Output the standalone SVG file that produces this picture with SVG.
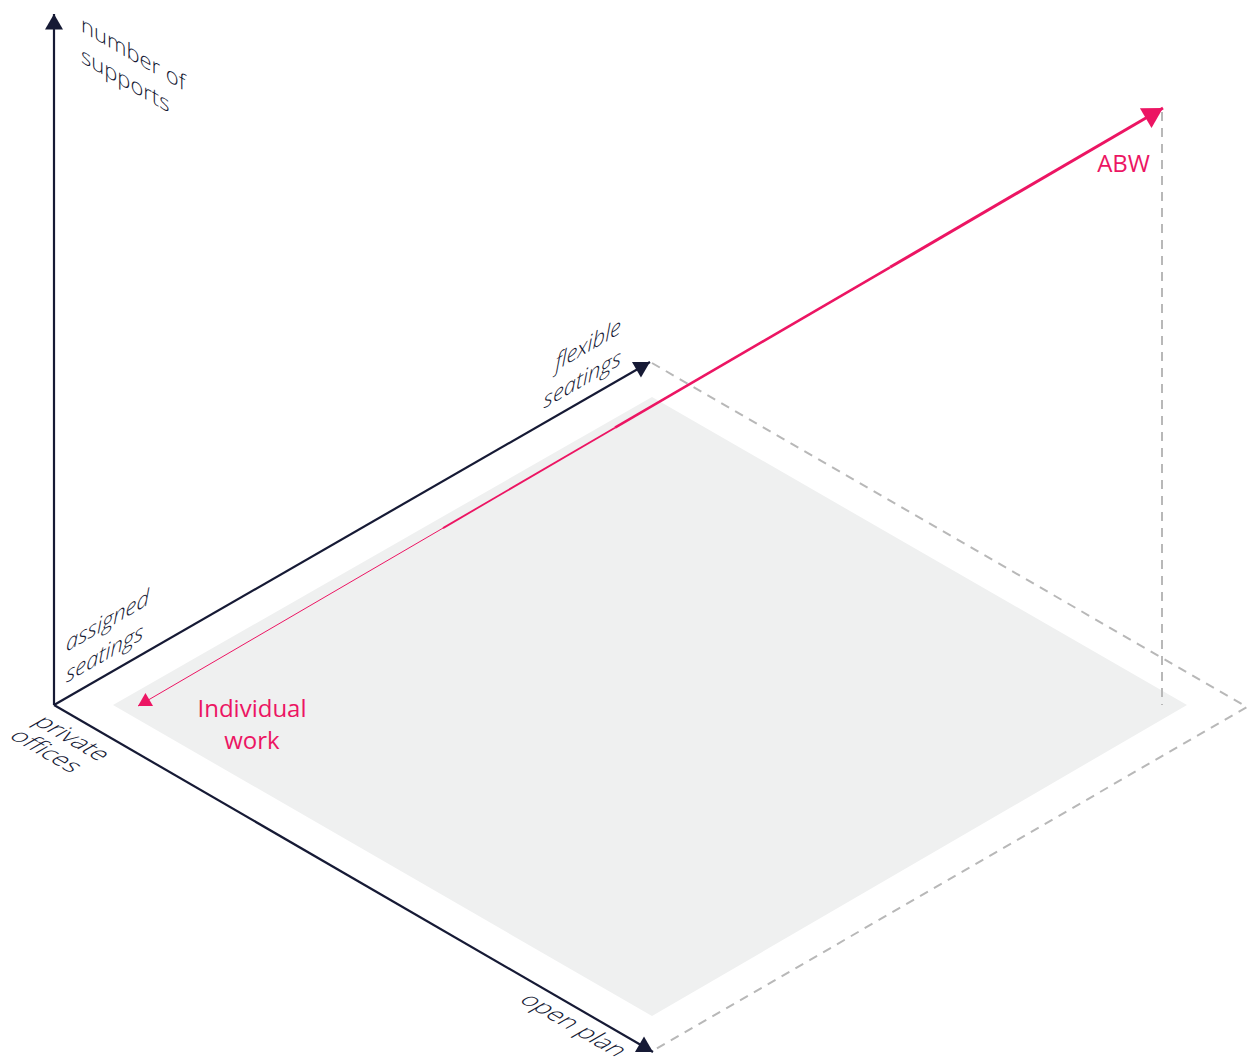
<svg xmlns="http://www.w3.org/2000/svg" width="1250" height="1059" viewBox="0 0 1250 1059">
  <style>
    .axis { stroke: #161a35; stroke-width: 2.2; fill: none; }
    .dash { stroke: #b8b8b8; stroke-width: 2; stroke-dasharray: 9 7; fill: none; }
    .pink { stroke: #ec1563; fill: none; }
    .lbl { font-family: "Open Sans", "Liberation Sans", sans-serif; font-weight: 300; font-size: 22px; fill: #161a35; }
    .it { font-style: italic; }
    .floor { font-size: 25px; }
    .plbl { font-family: "Open Sans", "Liberation Sans", sans-serif; font-size: 24px; fill: #ec1563; }
  </style>
  <defs>
    <marker id="arrDark" markerUnits="userSpaceOnUse" markerWidth="24" markerHeight="24" viewBox="-20 -12 24 24" refX="0" refY="0" orient="auto">
      <path d="M0,0 L-15.6,-9 L-15.6,9 Z" fill="#161a35"/>
    </marker>
    <marker id="arrPinkBig" markerUnits="userSpaceOnUse" markerWidth="30" markerHeight="30" viewBox="-26 -15 30 30" refX="0" refY="0" orient="auto">
      <path d="M0,0 L-20,-11.5 L-20,11.5 Z" fill="#ec1563"/>
    </marker>
    <marker id="arrPinkSmall" markerUnits="userSpaceOnUse" markerWidth="20" markerHeight="20" viewBox="-16 -10 20 20" refX="0" refY="0" orient="auto">
      <path d="M0,0 L-13,-7.5 L-13,7.5 Z" fill="#ec1563"/>
    </marker>
  </defs>

  <g id="floor">
    <polygon points="113,705 652,397 1187,705 652,1016" fill="#eff0f0"/>
  </g>

  <g id="connectors">
    <polyline class="dash" points="652,363 1247,707 656,1049"/>
    <line class="dash" x1="1162" y1="112" x2="1162" y2="705"/>
    <line class="axis" x1="54" y1="705" x2="54" y2="14" marker-end="url(#arrDark)"/>
    <line class="axis" x1="54" y1="705" x2="650" y2="362" marker-end="url(#arrDark)"/>
    <line class="axis" x1="54" y1="705" x2="653" y2="1052" marker-end="url(#arrDark)"/>
    <line class="pink" stroke-width="1" x1="443" y1="528.1" x2="138" y2="706" marker-end="url(#arrPinkSmall)"/>
    <line class="pink" stroke-width="1.8" x1="443" y1="528.1" x2="615" y2="427.7"/>
    <line class="pink" stroke-width="2.5" x1="615" y1="427.7" x2="890" y2="267.3"/>
    <line class="pink" stroke-width="3" x1="890" y1="267.3" x2="1163" y2="108" marker-end="url(#arrPinkBig)"/>
  </g>

  <g id="label-supports">
    <text class="lbl" transform="matrix(1,0.577,0,1,81,31)"><tspan x="0" y="0">number of</tspan><tspan x="0" y="31">supports</tspan></text>
  </g>
  <g id="label-assigned">
    <text class="lbl it" transform="matrix(1,-0.577,0,1,66,652)"><tspan x="0" y="0">assigned</tspan><tspan x="0" y="31">seatings</tspan></text>
  </g>
  <g id="label-flexible">
    <text class="lbl it" text-anchor="end" transform="matrix(1,-0.577,0,1,621,333)"><tspan x="0" y="0">flexible</tspan><tspan x="0" y="31">seatings</tspan></text>
  </g>
  <g id="label-private">
    <text class="lbl floor" transform="matrix(0.866,0.5,-0.866,0.5,32,723)"><tspan x="0" y="0">private</tspan><tspan x="0" y="28">offices</tspan></text>
  </g>
  <g id="label-openplan">
    <text class="lbl floor" font-size="23.5" transform="matrix(0.866,0.5,-0.866,0.5,518,1001)">open plan</text>
  </g>
  <g id="label-individual">
    <text class="plbl" text-anchor="middle"><tspan x="252" y="717">Individual</tspan><tspan x="252" y="749">work</tspan></text>
  </g>
  <g id="label-abw">
    <text class="plbl" x="1150" y="172" font-size="26" text-anchor="end">ABW</text>
  </g>
</svg>
